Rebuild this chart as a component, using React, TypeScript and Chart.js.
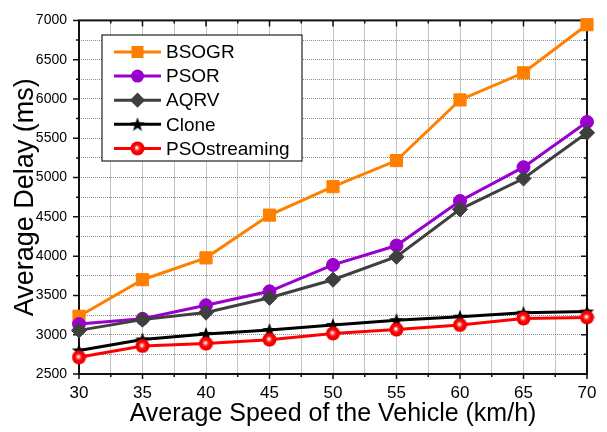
import { useEffect, useRef } from 'react';
import { Chart, registerables } from 'chart.js';

Chart.register(...registerables);

// ---- data ----
const speeds = [30, 35, 40, 45, 50, 55, 60, 65, 70];
const bsogr = [3235, 3700, 3978, 4522, 4884, 5216, 5988, 6333, 6945];
const psor = [3135, 3202, 3375, 3552, 3888, 4135, 4702, 5132, 5708];
const aqrv = [3055, 3192, 3282, 3470, 3700, 3992, 4595, 4988, 5570];
const clone = [2800, 2940, 3010, 3060, 3125, 3185, 3230, 3280, 3295];
const psoStreaming = [2712, 2857, 2887, 2937, 3016, 3065, 3124, 3207, 3220];
const seriesNames = ['BSOGR', 'PSOR', 'AQRV', 'Clone', 'PSOstreaming'];

const X_MIN = 30;
const X_MAX = 70;
const X_STEP = 2.5;
const X_LABEL_EVERY = 5;
const Y_MIN = 2500;
const Y_MAX = 7000;
const Y_STEP = 250;
const Y_LABEL_EVERY = 500;

const xTitle = 'Average Speed of the Vehicle (km/h)';
const yTitle = 'Average Delay (ms)';

const FONT = '"Liberation Sans", Arial, Helvetica, sans-serif';

function makeStar(): HTMLCanvasElement {
  const c = document.createElement('canvas');
  c.width = 16;
  c.height = 16;
  const g = c.getContext('2d')!;
  const cx = 8, cy = 8.5, ro = 7.6, ri = 3.1;
  g.beginPath();
  for (let i = 0; i < 10; i++) {
    const r = i % 2 === 0 ? ro : ri;
    const a = -Math.PI / 2 + (i * Math.PI) / 5;
    const px = cx + r * Math.cos(a);
    const py = cy + r * Math.sin(a);
    if (i === 0) g.moveTo(px, py);
    else g.lineTo(px, py);
  }
  g.closePath();
  g.fillStyle = '#000';
  g.fill();
  return c;
}

function makeGloss(): HTMLCanvasElement {
  const c = document.createElement('canvas');
  c.width = 15;
  c.height = 15;
  const g = c.getContext('2d')!;
  const cx = 7.5, cy = 7.5, r = 7;
  const grad = g.createRadialGradient(cx - 0.8, cy - 0.8, 0, cx, cy, r);
  grad.addColorStop(0, '#ffffff');
  grad.addColorStop(0.12, '#ffe4e4');
  grad.addColorStop(0.32, '#ff4a4a');
  grad.addColorStop(0.55, '#ff0000');
  grad.addColorStop(1, '#e80000');
  g.beginPath();
  g.arc(cx, cy, r, 0, Math.PI * 2);
  g.fillStyle = grad;
  g.fill();
  return c;
}

export default function App() {
  const ref = useRef<HTMLCanvasElement>(null);

  useEffect(() => {
    document.body.style.margin = '0';
    const star = makeStar();
    const gloss = makeGloss();

    const values = [bsogr, psor, aqrv, clone, psoStreaming];
    const styles: any[] = [
      { color: '#FF8000', pointStyle: 'rect', radius: 8.6 },
      { color: '#9A00CC', pointStyle: 'circle', radius: 6.5 },
      { color: '#3F3F3F', pointStyle: 'rectRot', radius: 7.6 },
      { color: '#000000', pointStyle: star, radius: 7 },
      { color: '#FF0000', pointStyle: gloss, radius: 7 },
    ];

    const datasets = seriesNames.map((name, i) => ({
      label: name,
      data: speeds.map((s, j) => ({ x: s, y: values[i][j] })),
      borderColor: styles[i].color,
      backgroundColor: styles[i].color,
      pointBackgroundColor: styles[i].color,
      pointBorderColor: styles[i].color,
      pointBorderWidth: 1,
      pointStyle: styles[i].pointStyle,
      pointRadius: styles[i].radius,
      borderWidth: 3,
      tension: 0,
      clip: false as any,
      order: seriesNames.length - i,
    }));

    const framePlugin = {
      id: 'frameTicks',
      beforeDatasetsDraw(chart: any) {
        const { ctx, chartArea, scales } = chart;
        const { left, right, top, bottom } = chartArea;
        const xs = scales.x;
        const ys = scales.y;
        ctx.save();
        ctx.strokeStyle = '#111';
        ctx.lineWidth = 1.5;
        ctx.beginPath();
        for (let v = X_MIN; v <= X_MAX + 1e-9; v += X_STEP) {
          const major = Math.abs(v % X_LABEL_EVERY) < 1e-9;
          const px = xs.getPixelForValue(v);
          ctx.moveTo(px, bottom);
          ctx.lineTo(px, bottom + (major ? 5 : 3));
          ctx.moveTo(px, top);
          ctx.lineTo(px, top + (major ? 6 : 3));
        }
        for (let v = Y_MIN; v <= Y_MAX + 1e-9; v += Y_STEP) {
          const major = Math.abs(v % Y_LABEL_EVERY) < 1e-9;
          const py = ys.getPixelForValue(v);
          ctx.moveTo(left, py);
          ctx.lineTo(left - (major ? 6 : 3), py);
          ctx.moveTo(right, py);
          ctx.lineTo(right - (major ? 6 : 3), py);
        }
        ctx.stroke();
        ctx.lineWidth = 2;
        ctx.strokeStyle = '#111';
        ctx.strokeRect(left, top, right - left, bottom - top);
        ctx.restore();
      },
    };

    const legendPlugin = {
      id: 'boxLegend',
      afterDraw(chart: any) {
        const { ctx } = chart;
        const bx = 102, by = 35, bw = 200, bh = 126;
        ctx.save();
        ctx.fillStyle = '#fff';
        ctx.fillRect(bx, by, bw, bh);
        ctx.strokeStyle = '#222';
        ctx.lineWidth = 1.2;
        ctx.strokeRect(bx, by, bw, bh);
        const x0 = 114, x1 = 161, mx = 137.5, tx = 166;
        ctx.font = `19px ${FONT}`;
        ctx.textBaseline = 'middle';
        ctx.textAlign = 'left';
        seriesNames.forEach((name, i) => {
          const yy = 52 + i * 24.1;
          const col = styles[i].color;
          ctx.strokeStyle = col;
          ctx.lineWidth = 3;
          ctx.beginPath();
          ctx.moveTo(x0, yy);
          ctx.lineTo(x1, yy);
          ctx.stroke();
          ctx.fillStyle = col;
          const ps = styles[i].pointStyle;
          if (ps === 'rect') {
            ctx.fillRect(mx - 6, yy - 6, 12, 12);
          } else if (ps === 'circle') {
            ctx.beginPath();
            ctx.arc(mx, yy, 6.5, 0, Math.PI * 2);
            ctx.fill();
          } else if (ps === 'rectRot') {
            ctx.beginPath();
            ctx.moveTo(mx, yy - 7.6);
            ctx.lineTo(mx + 7.6, yy);
            ctx.lineTo(mx, yy + 7.6);
            ctx.lineTo(mx - 7.6, yy);
            ctx.closePath();
            ctx.fill();
          } else {
            const img = ps as HTMLCanvasElement;
            ctx.drawImage(img, mx - img.width / 2, yy - img.height / 2);
          }
          ctx.fillStyle = '#000';
          ctx.fillText(name, tx, yy + 1);
        });
        ctx.restore();
      },
    };

    const chart = new Chart(ref.current!, {
      type: 'line',
      data: { datasets: datasets as any },
      options: {
        animation: false,
        responsive: false,
        devicePixelRatio: 1,
        events: [],
        layout: { padding: { top: 14, right: 20, left: 0, bottom: 0 } },
        plugins: {
          legend: { display: false },
          tooltip: { enabled: false },
        },
        font: { family: FONT } as any,
        scales: {
          x: {
            type: 'linear',
            min: X_MIN,
            max: X_MAX,
            afterFit(s: any) {
              s.height = 58;
            },
            ticks: {
              stepSize: X_STEP,
              autoSkip: false,
              maxRotation: 0,
              minRotation: 0,
              padding: 9,
              color: '#000',
              font: { size: 17, family: FONT },
              callback: (v: any) => (Math.abs(Number(v) % X_LABEL_EVERY) < 1e-9 ? String(v) : ''),
            },
            grid: { color: '#8a8a8a', lineWidth: 1, drawTicks: false },
            border: { display: false, dash: [1, 1] },
            title: {
              display: true,
              text: xTitle,
              color: '#000',
              font: { size: 25, family: FONT, lineHeight: 1 },
              padding: { top: 0, bottom: 5 },
            },
          },
          y: {
            type: 'linear',
            min: Y_MIN,
            max: Y_MAX,
            afterFit(s: any) {
              s.width = 79;
            },
            ticks: {
              stepSize: Y_STEP,
              autoSkip: false,
              padding: 12,
              color: '#000',
              font: { size: 14, family: FONT },
              callback: (v: any) => (Math.abs(Number(v) % Y_LABEL_EVERY) < 1e-9 ? String(v) : ''),
            },
            grid: { color: '#8a8a8a', lineWidth: 1, drawTicks: false },
            border: { display: false, dash: [1, 1] },
            title: {
              display: true,
              text: yTitle,
              color: '#000',
              font: { size: 27, family: FONT, lineHeight: 1 },
              padding: { top: 12, bottom: 0 },
            },
          },
        },
      },
      plugins: [framePlugin, legendPlugin],
    });

    return () => chart.destroy();
  }, []);

  return (
    <div style={{ width: 607, height: 432 }}>
      <canvas ref={ref} width={607} height={432} style={{ display: 'block' }} />
    </div>
  );
}
